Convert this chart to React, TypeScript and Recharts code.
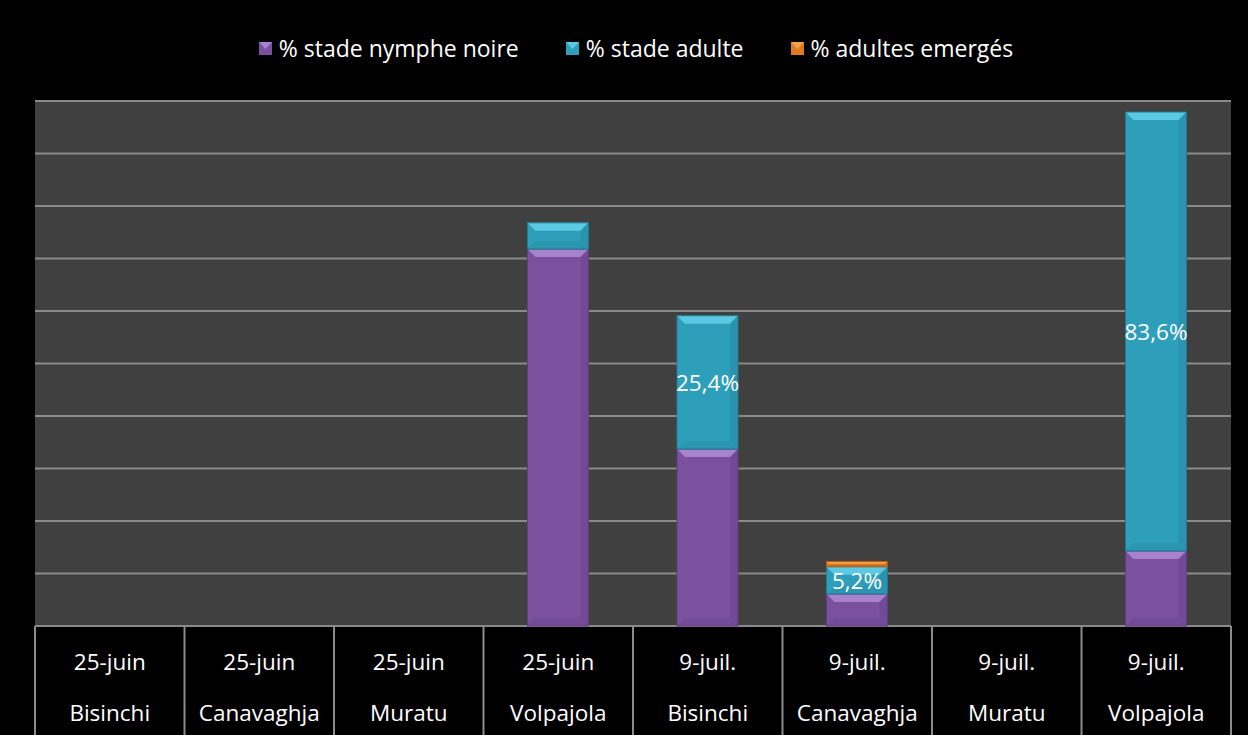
import React from "react"
import { Bar, BarChart, CartesianGrid, LabelList, XAxis, YAxis } from "recharts"

const dates = ["25-juin", "25-juin", "25-juin", "25-juin", "9-juil.", "9-juil.", "9-juil.", "9-juil."]
const sites = ["Bisinchi", "Canavaghja", "Muratu", "Volpajola", "Bisinchi", "Canavaghja", "Muratu", "Volpajola"]
const nymphe = [0, 0, 0, 71.8, 33.7, 6.1, 0, 14.3]
const adulte = [0, 0, 0, 5.0, 25.4, 5.2, 0, 83.6]
const emerges = [0, 0, 0, 0, 0, 1.0, 0, 0]
const adulteLabels = [null, null, null, null, "25,4%", "5,2%", null, "83,6%"]
const yTicks = [0, 10, 20, 30, 40, 50, 60, 70, 80, 90, 100]

const W = 1248
const H = 735
const AXIS_H = 109
const MARGIN = { top: 101, right: 17, bottom: 0, left: 35 }
const STEP = (W - MARGIN.left - MARGIN.right) / dates.length
const FONT = "'Open Sans', sans-serif"

const SERIES = [
  { key: "nymphe", name: "% stade nymphe noire", base: "#7a509f", light: "#a683cc", dark: "#5f3d80" },
  { key: "adulte", name: "% stade adulte", base: "#2e9fba", light: "#5cc9e2", dark: "#217a91" },
  { key: "emerges", name: "% adultes emergés", base: "#e07a1e", light: "#f4a04a", dark: "#b05a10" },
]

const data = dates.map((d, i) => ({
  date: d,
  site: sites[i],
  nymphe: nymphe[i],
  adulte: adulte[i],
  emerges: emerges[i],
  label: adulteLabels[i],
}))

function bevelShape(s: (typeof SERIES)[number]) {
  return (props: any) => {
    const { x, y, width, height } = props
    if (!height || height <= 0) return <g />
    const b = Math.min(8, height / 2, width / 2)
    return (
      <g>
        <rect x={x} y={y} width={width} height={height} fill={s.base} />
        <polygon points={`${x},${y} ${x + width},${y} ${x + width - b},${y + b} ${x + b},${y + b}`} fill={s.light} />
        <polygon
          points={`${x + width},${y} ${x + width - b},${y + b} ${x + width - b},${y + height - b} ${x + width},${y + height}`}
          fill={s.dark}
          opacity={0.3}
        />
        <polygon
          points={`${x},${y + height} ${x + b},${y + height - b} ${x + width - b},${y + height - b} ${x + width},${y + height}`}
          fill={s.dark}
          opacity={0.25}
        />
        <rect x={x} y={y} width={width} height={height} fill="none" stroke={s.dark} strokeWidth={1} />
      </g>
    )
  }
}

function CategoryTick(props: any) {
  const { x, y, index } = props
  const d = data[index]
  const left = x - STEP / 2
  const right = x + STEP / 2
  return (
    <g>
      <line x1={left} y1={y} x2={left} y2={y + AXIS_H} stroke="#8c8c8c" strokeWidth={2} />
      {index === dates.length - 1 && (
        <line x1={right} y1={y} x2={right} y2={y + AXIS_H} stroke="#8c8c8c" strokeWidth={2} />
      )}
      <text x={x} y={y + 35} textAnchor="middle" dominantBaseline="central" fill="#ffffff" fontSize={22.5} fontFamily={FONT}>
        {d.date}
      </text>
      <text x={x} y={y + 86} textAnchor="middle" dominantBaseline="central" fill="#ffffff" fontSize={22.5} fontFamily={FONT}>
        {d.site}
      </text>
    </g>
  )
}

function LegendBox() {
  return (
    <div
      style={{
        position: "absolute",
        top: 32,
        left: 12,
        width: W,
        display: "flex",
        justifyContent: "center",
        gap: 47,
        fontFamily: FONT,
        fontSize: 23,
        lineHeight: "32px",
        color: "#fff",
      }}
    >
      {SERIES.map((s) => (
        <div key={s.key} style={{ display: "flex", alignItems: "center", gap: 7 }}>
          <svg width={13} height={13}>
            <rect x={0} y={0} width={13} height={13} fill={s.base} />
            <polygon points="0,0 13,0 6.5,7" fill={s.light} />
          </svg>
          <span>{s.name}</span>
        </div>
      ))}
    </div>
  )
}

function AdultLabel(props: any) {
  const { x, y, width, height, index } = props
  const text = data[index]?.label
  if (!text) return null
  return (
    <text
      x={x + width / 2}
      y={y + height / 2}
      textAnchor="middle"
      dominantBaseline="central"
      fill="#ffffff"
      fontSize={22.5}
      fontFamily={FONT}
    >
      {text}
    </text>
  )
}

export default function App() {
  return (
    <div style={{ position: "fixed", left: 0, top: 0, width: W, height: H, background: "#000" }}>
      <BarChart width={W} height={H} data={data} margin={MARGIN} barSize={61}>
        <CartesianGrid vertical={false} fill="#404040" stroke="#8a8a8a" strokeWidth={2} fillOpacity={1} />
        <YAxis hide domain={[0, 100]} ticks={yTicks} />
        <XAxis
          dataKey="site"
          axisLine={false}
          tickLine={false}
          tickSize={0}
          tickMargin={0}
          height={AXIS_H}
          interval={0}
          tick={<CategoryTick />}
        />
        {SERIES.map((s) => (
          <Bar
            key={s.key}
            dataKey={s.key}
            name={s.name}
            stackId="a"
            fill={s.base}
            shape={bevelShape(s)}
            isAnimationActive={false}
          >
            {s.key === "adulte" && <LabelList dataKey="label" content={<AdultLabel />} />}
          </Bar>
        ))}
      </BarChart>
      <LegendBox />
    </div>
  )
}
